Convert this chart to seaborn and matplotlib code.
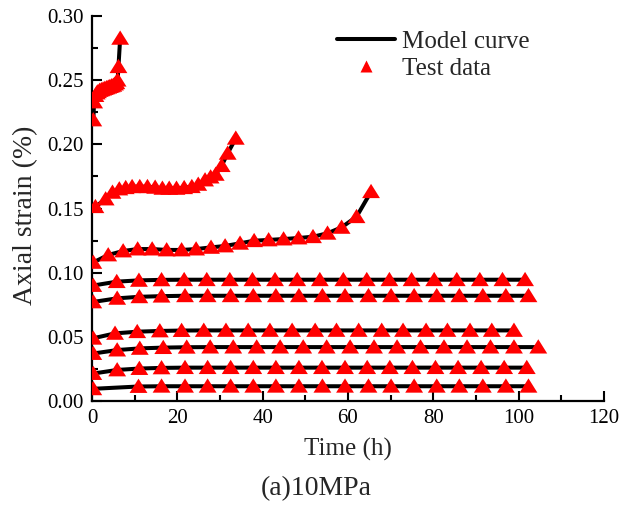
import numpy as np
import pandas as pd
import seaborn as sns
import matplotlib
matplotlib.use("Agg")
import matplotlib.pyplot as plt
from matplotlib.path import Path
from matplotlib.lines import Line2D
from matplotlib.ticker import MultipleLocator, FormatStrFormatter

# ---------------- data (time in h, axial strain in %) ----------------
t1 = [0.3, 0.5, 0.8, 1.1, 1.4, 1.8, 2.2, 2.6, 3.0, 3.4, 3.8, 4.2, 4.6, 5.0, 5.4, 5.7, 6.0, 6.2, 6.6]
e1 = [0.219, 0.233, 0.238, 0.240, 0.241, 0.242, 0.2425, 0.243, 0.2435, 0.244, 0.2445, 0.245,
      0.2455, 0.246, 0.247, 0.248, 0.250, 0.2605, 0.2826]

t2 = [0.8, 3.2, 4.8, 6.4, 7.9, 9.4, 11.2, 13.0, 14.8, 16.5, 18.1, 19.8, 21.6, 23.4, 24.9,
      26.5, 27.8, 29.0, 30.4, 31.8, 33.7]
e2 = [0.1514, 0.1574, 0.1626, 0.1652, 0.1662, 0.1670, 0.1670, 0.1670, 0.1665, 0.1657, 0.1657,
      0.1657, 0.1662, 0.1670, 0.1688, 0.1722, 0.1745, 0.1766, 0.1834, 0.1930, 0.2047]

t3 = [0.3, 3.8, 7.3, 10.7, 14.1, 17.5, 21.0, 24.4, 27.9, 31.2, 34.7, 38.0, 41.4, 44.9, 48.4,
      51.8, 55.2, 58.5, 62.0, 65.4]
e3 = [0.1080, 0.1138, 0.1169, 0.1184, 0.1184, 0.1177, 0.1177, 0.1184, 0.1197, 0.1208, 0.1229,
      0.1249, 0.1255, 0.1262, 0.1270, 0.1280, 0.1307, 0.1353, 0.1436, 0.1631]

t4 = [0.3, 5.8, 11.0, 16.3, 21.6, 26.9, 32.3, 37.6, 42.9, 48.1, 53.4, 58.9, 64.4, 69.7, 74.9,
      80.2, 85.5, 90.9, 96.2, 101.5]
e4 = [0.0900, 0.0930, 0.0940, 0.0944, 0.0945, 0.0945, 0.0945, 0.0945, 0.0945, 0.0945, 0.0945,
      0.0945, 0.0945, 0.0945, 0.0945, 0.0945, 0.0945, 0.0945, 0.0945, 0.0945]

t5 = [0.3, 5.9, 11.1, 16.3, 21.8, 27.1, 32.5, 37.8, 43.1, 48.5, 54.0, 59.3, 64.8, 70.1, 75.5,
      80.8, 86.1, 91.6, 97.0, 102.3]
e5 = [0.0772, 0.0800, 0.0812, 0.0817, 0.0820, 0.0820, 0.0820, 0.0820, 0.0820, 0.0820, 0.0820,
      0.0820, 0.0820, 0.0820, 0.0820, 0.0820, 0.0820, 0.0820, 0.0820, 0.0820]

t6 = [0.3, 5.4, 10.6, 15.9, 21.0, 26.2, 31.4, 36.6, 41.7, 46.9, 52.3, 57.3, 62.5, 67.9, 72.9,
      78.3, 83.3, 88.6, 93.7, 98.9]
e6 = [0.0489, 0.0527, 0.0540, 0.0546, 0.0549, 0.0550, 0.0550, 0.0550, 0.0550, 0.0550, 0.0550,
      0.0550, 0.0550, 0.0550, 0.0550, 0.0550, 0.0550, 0.0550, 0.0550, 0.0550]

t7 = [0.3, 5.9, 11.2, 16.7, 22.2, 27.7, 33.1, 38.6, 44.1, 49.5, 55.0, 60.5, 66.1, 71.5, 77.0,
      82.5, 87.9, 93.4, 98.9, 104.6]
e7 = [0.0370, 0.0397, 0.0410, 0.0416, 0.0419, 0.0420, 0.0420, 0.0420, 0.0420, 0.0420, 0.0420,
      0.0420, 0.0420, 0.0420, 0.0420, 0.0420, 0.0420, 0.0420, 0.0420, 0.0420]

t8 = [0.3, 5.9, 11.1, 16.3, 21.8, 27.1, 32.5, 37.8, 43.1, 48.5, 53.9, 59.3, 64.5, 69.8, 75.1,
      80.5, 85.8, 91.2, 96.6, 101.9]
e8 = [0.0214, 0.0242, 0.0253, 0.0258, 0.0260, 0.0260, 0.0260, 0.0260, 0.0260, 0.0260, 0.0260,
      0.0260, 0.0260, 0.0260, 0.0260, 0.0260, 0.0260, 0.0260, 0.0260, 0.0260]

t9 = [0.3, 10.9, 16.3, 21.8, 27.1, 32.5, 37.8, 43.1, 48.5, 54.0, 59.3, 64.8, 70.1, 75.5,
      80.8, 86.1, 91.6, 97.0, 102.3]
e9 = [0.0095, 0.0113, 0.0115, 0.0115, 0.0115, 0.0115, 0.0115, 0.0115, 0.0115, 0.0115, 0.0115,
      0.0115, 0.0115, 0.0115, 0.0115, 0.0115, 0.0115, 0.0115, 0.0115]

x_ticks = [0, 20, 40, 60, 80, 100, 120]
y_ticks = [0.00, 0.05, 0.10, 0.15, 0.20, 0.25, 0.30]
legend_labels = ["Model curve", "Test data"]
x_label = "Time (h)"
y_label = "Axial strain (%)"
caption = "(a)10MPa"

# ---------------- build table ----------------
series = [(t1, e1), (t2, e2), (t3, e3), (t4, e4), (t5, e5), (t6, e6), (t7, e7), (t8, e8), (t9, e9)]
frames = []
for i, (t, e) in enumerate(series):
    frames.append(pd.DataFrame({"time": t, "strain": e, "curve": i}))
df = pd.concat(frames, ignore_index=True)

# ---------------- style ----------------
sns.set_style("ticks")
plt.rcParams["font.family"] = ["Liberation Serif", "DejaVu Serif"]

fig = plt.figure(figsize=(6.33, 5.09), dpi=100)
ax = fig.add_axes([92 / 633, 108 / 509, 512 / 633, 385 / 509])

sns.lineplot(data=df, x="time", y="strain", units="curve", estimator=None, sort=False,
             color="black", linewidth=2.9, ax=ax, legend=False)

tri = Path([(-1.0, -0.72), (1.0, -0.72), (0.0, 0.88), (-1.0, -0.72)],
           [Path.MOVETO, Path.LINETO, Path.LINETO, Path.CLOSEPOLY])
sns.scatterplot(data=df, x="time", y="strain", marker=tri, s=165, color="#ff0000",
                edgecolor="none", linewidth=0, ax=ax, legend=False, zorder=3)

ax.set_xlim(0, 120)
ax.set_ylim(0, 0.30)
ax.set_xticks(x_ticks)
ax.set_yticks(y_ticks)
ax.xaxis.set_minor_locator(MultipleLocator(10))
ax.yaxis.set_minor_locator(MultipleLocator(0.025))
ax.yaxis.set_major_formatter(FormatStrFormatter("%.2f"))
ax.tick_params(axis="both", which="major", direction="in", length=7, width=1.5,
               labelsize=15, pad=6, color="black", labelcolor="black")
ax.tick_params(axis="both", which="minor", direction="in", length=4.5, width=1.5, color="black")

for s in ["top", "right"]:
    ax.spines[s].set_visible(False)
for s in ["left", "bottom"]:
    ax.spines[s].set_linewidth(1.6)
    ax.spines[s].set_color("black")

ax.set_xlabel(x_label, fontsize=18, labelpad=7)
ax.set_ylabel(y_label, fontsize=20)
ax.yaxis.set_label_coords(-0.105, 0.483)

handles = [Line2D([0], [0], color="black", linewidth=2.9),
           Line2D([0], [0], linestyle="none", marker="^", markersize=9,
                  markerfacecolor="#ff0000", markeredgecolor="none")]
ax.legend(handles, legend_labels, loc="upper left", bbox_to_anchor=(0.479, 0.962),
          frameon=False, fontsize=18, handlelength=2.3, handletextpad=0.3,
          labelspacing=0.18, borderpad=0, borderaxespad=0)

fig.text(0.5, 1 - 489 / 509, caption, ha="center", va="center", fontsize=20)

fig.savefig("out.png", dpi=100)
